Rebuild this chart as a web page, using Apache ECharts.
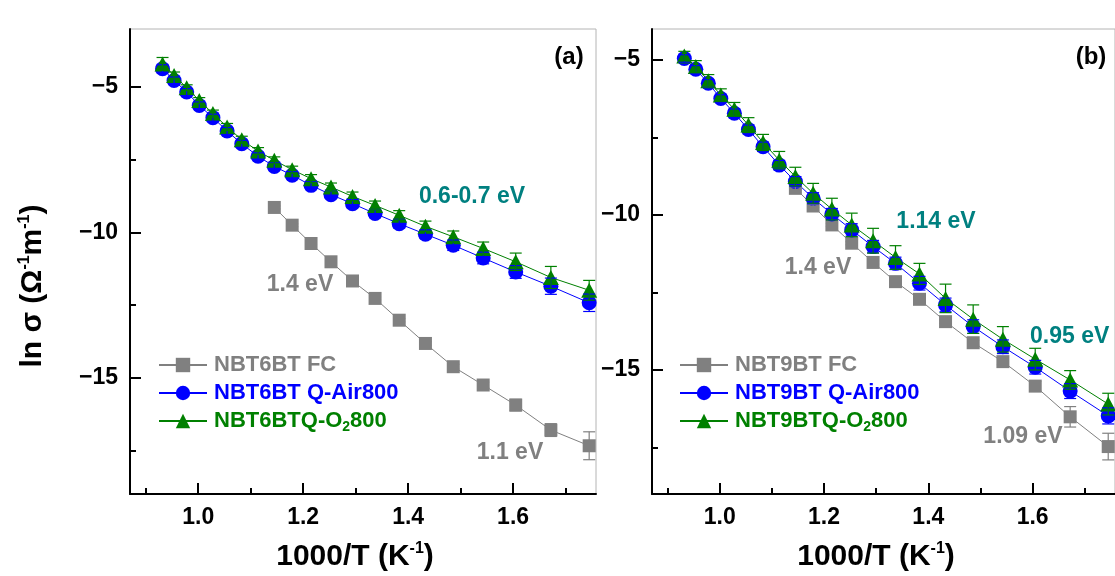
<!DOCTYPE html>
<html>
<head>
<meta charset="utf-8">
<script src="https://cdn.jsdelivr.net/npm/echarts@6/dist/echarts.min.js"></script>
<style>
html, body { margin: 0; padding: 0; background: #ffffff; }
#chart { width: 1115px; height: 576px; }
</style>
</head>
<body>
<div id="chart"></div>
<script>
// Reciprocal temperature, 1000/T (K^-1): 1073 K down to 573 K in 25 K steps
const invT = [0.932, 0.954, 0.978, 1.002, 1.028, 1.055, 1.083, 1.114, 1.145, 1.179, 1.215,
              1.253, 1.294, 1.337, 1.383, 1.433, 1.486, 1.543, 1.605, 1.672, 1.745];
// Furnace-cooled samples were measured from 873 K downwards
const invTFC = [1.145, 1.179, 1.215, 1.253, 1.294, 1.337, 1.383, 1.433, 1.486, 1.543, 1.605, 1.672, 1.745];

// Panel (a): NBT6BT, ln sigma (ohm^-1 m^-1) and its uncertainty
const nbt6FC      = [-9.14, -9.75, -10.38, -11.01, -11.67, -12.27, -13.02, -13.82, -14.62, -15.25, -15.94, -16.80, -17.34];
const nbt6FCErr   = [0.05, 0.05, 0.05, 0.05, 0.05, 0.05, 0.06, 0.06, 0.08, 0.10, 0.20, 0.22, 0.48];
const nbt6Air     = [-4.37, -4.77, -5.17, -5.63, -6.05, -6.51, -6.95, -7.38, -7.73, -8.03, -8.38,
                     -8.70, -9.01, -9.35, -9.70, -10.06, -10.44, -10.88, -11.36, -11.85, -12.42];
const nbt6AirErr  = [0.14, 0.12, 0.12, 0.12, 0.12, 0.12, 0.12, 0.12, 0.12, 0.12, 0.12,
                     0.12, 0.14, 0.14, 0.15, 0.15, 0.18, 0.20, 0.22, 0.28, 0.30];
const nbt6O2      = [-4.20, -4.60, -5.02, -5.46, -5.91, -6.37, -6.81, -7.20, -7.52, -7.84, -8.15,
                     -8.44, -8.76, -9.07, -9.41, -9.79, -10.15, -10.55, -11.01, -11.55, -11.99];
const nbt6O2Err   = [0.22, 0.12, 0.10, 0.10, 0.12, 0.12, 0.12, 0.12, 0.12, 0.12, 0.14,
                     0.14, 0.15, 0.15, 0.16, 0.18, 0.20, 0.22, 0.30, 0.38, 0.34];

// Panel (b): NBT9BT
const nbt9FC      = [-9.14, -9.71, -10.32, -10.91, -11.53, -12.15, -12.72, -13.44, -14.12, -14.73, -15.52, -16.51, -17.47];
const nbt9FCErr   = [0.05, 0.05, 0.05, 0.05, 0.05, 0.05, 0.06, 0.06, 0.08, 0.10, 0.15, 0.33, 0.43];
const nbt9Air     = [-4.95, -5.30, -5.75, -6.24, -6.72, -7.24, -7.80, -8.39, -8.92, -9.46, -9.97,
                     -10.48, -11.02, -11.56, -12.20, -12.90, -13.60, -14.25, -14.91, -15.68, -16.48];
const nbt9AirErr  = [0.12, 0.12, 0.12, 0.12, 0.14, 0.14, 0.15, 0.15, 0.16, 0.18, 0.18,
                     0.20, 0.20, 0.20, 0.22, 0.22, 0.22, 0.22, 0.22, 0.24, 0.26];
const nbt9O2      = [-4.87, -5.21, -5.67, -6.13, -6.59, -7.10, -7.66, -8.23, -8.76, -9.30, -9.81,
                     -10.32, -10.83, -11.37, -11.90, -12.69, -13.36, -14.01, -14.65, -15.32, -16.10];
const nbt9O2Err   = [0.15, 0.19, 0.20, 0.20, 0.22, 0.24, 0.26, 0.28, 0.30, 0.32, 0.35,
                     0.38, 0.40, 0.38, 0.34, 0.46, 0.46, 0.41, 0.35, 0.30, 0.35];

// Axis ticks
const xMajorTicks = [1.0, 1.2, 1.4, 1.6];
const xMinorTicks = [0.9, 1.1, 1.3, 1.5, 1.7];
const yMajorTicks = [-15, -10, -5];
const yMinorTicks = [-17.5, -12.5, -7.5];

// Series names and colours
const namesA = ['NBT6BT FC', 'NBT6BT Q-Air800', 'NBT6BTQ-O2800'];
const namesB = ['NBT9BT FC', 'NBT9BT Q-Air800', 'NBT9BTQ-O2800'];
const GRAY = '#808080', BLUE = '#0000ff', GREEN = '#008000', TEAL = '#008080';
const FONT = '"Liberation Sans", Arial, Helvetica, sans-serif';

const chart = echarts.init(document.getElementById('chart'), null, { renderer: 'canvas' });

function pairs(xs, ys) { return xs.map((x, i) => [x, ys[i]]); }

function xAxes(grid) {
  const common = {
    type: 'value', gridIndex: grid, min: 0.87, max: 1.758, position: 'bottom',
    splitLine: { show: false }
  };
  return [
    Object.assign({}, common, {
      axisLine: { show: true, onZero: false, lineStyle: { color: '#000', width: 2 } },
      axisTick: { show: true, inside: true, length: 11, customValues: xMajorTicks,
                  lineStyle: { color: '#000', width: 2 } },
      axisLabel: { show: true, customValues: xMajorTicks, margin: 12,
                   formatter: v => v.toFixed(1),
                   color: '#000', fontSize: 23, fontWeight: 'bold', fontFamily: FONT }
    }),
    Object.assign({}, common, {
      axisLine: { show: false },
      axisTick: { show: true, inside: true, length: 6, customValues: xMinorTicks,
                  lineStyle: { color: '#000', width: 2 } },
      axisLabel: { show: false }
    })
  ];
}

function yAxes(grid, max) {
  const common = {
    type: 'value', gridIndex: grid, min: -19, max: max, position: 'left',
    splitLine: { show: false }
  };
  return [
    Object.assign({}, common, {
      axisLine: { show: true, onZero: false, lineStyle: { color: '#000', width: 2 } },
      axisTick: { show: true, inside: true, length: 11, customValues: yMajorTicks,
                  lineStyle: { color: '#000', width: 2 } },
      axisLabel: { show: true, customValues: yMajorTicks, margin: 12,
                   formatter: v => String(v).replace('-', '\u2212'),
                   color: '#000', fontSize: 23, fontWeight: 'bold', fontFamily: FONT }
    }),
    Object.assign({}, common, {
      axisLine: { show: false },
      axisTick: { show: true, inside: true, length: 6, customValues: yMinorTicks,
                  lineStyle: { color: '#000', width: 2 } },
      axisLabel: { show: false }
    })
  ];
}

function lineSeries(name, xs, ys, color, symbol, size, xi, yi) {
  return {
    type: 'line', name: name, xAxisIndex: xi, yAxisIndex: yi,
    data: pairs(xs, ys), symbol: symbol, symbolSize: size, showSymbol: true,
    lineStyle: { color: color, width: 1 },
    itemStyle: { color: color, borderWidth: 0 },
    emphasis: { disabled: true }, z: 2
  };
}

function errorSeries(name, xs, ys, es, color, xi, yi) {
  return {
    type: 'custom', name: name, xAxisIndex: xi, yAxisIndex: yi, silent: true, z: 3,
    data: xs.map((x, i) => [x, ys[i] - es[i], ys[i] + es[i]]),
    encode: { x: 0, y: [1, 2] },
    renderItem: function (params, api) {
      const lo = api.coord([api.value(0), api.value(1)]);
      const hi = api.coord([api.value(0), api.value(2)]);
      const w = 6;
      const st = { stroke: color, lineWidth: 1.2 };
      return {
        type: 'group',
        children: [
          { type: 'line', shape: { x1: lo[0], y1: lo[1], x2: hi[0], y2: hi[1] }, style: st },
          { type: 'line', shape: { x1: lo[0] - w, y1: lo[1], x2: lo[0] + w, y2: lo[1] }, style: st },
          { type: 'line', shape: { x1: hi[0] - w, y1: hi[1], x2: hi[0] + w, y2: hi[1] }, style: st }
        ]
      };
    }
  };
}

function legendFor(names, left) {
  const colors = [GRAY, BLUE, GREEN];
  const sub = c => ({ color: c, fontSize: 14, fontWeight: 'bold', fontFamily: FONT,
                      verticalAlign: 'bottom', lineHeight: 14 });
  return {
    orient: 'vertical', left: left, top: 352, padding: 0,
    itemWidth: 48, itemHeight: 18, itemGap: 2, selectedMode: false,
    data: names.map((n, i) => ({
      name: n,
      textStyle: { color: colors[i], rich: { sub: sub(colors[i]) } }
    })),
    formatter: n => n.replace('O2', 'O{sub|2}'),
    textStyle: { fontSize: 22, fontWeight: 'bold', fontFamily: FONT, lineHeight: 26,
                 padding: [0, 0, 0, 2] }
  };
}

function label(text, x, y, color, size, align) {
  return {
    type: 'text', x: x, y: y, z: 10, silent: true,
    style: {
      text: text, fill: color, fontSize: size, fontWeight: 'bold', fontFamily: FONT,
      align: align || 'center', verticalAlign: 'middle',
      textAlign: align || 'center', textVerticalAlign: 'middle'
    }
  };
}

function richTitle(text, x, y, rotation) {
  return {
    type: 'text', x: x, y: y, rotation: rotation || 0, z: 10, silent: true,
    style: {
      text: text, fill: '#000', fontSize: 30, fontWeight: 'bold', fontFamily: FONT,
      align: 'center', verticalAlign: 'middle',
      textAlign: 'center', textVerticalAlign: 'middle',
      rich: {
        t: { fontSize: 30, fontWeight: 'bold', fontFamily: FONT, fill: '#000', color: '#000', lineHeight: 32 },
        sup: { fontSize: 16, fontWeight: 'bold', fontFamily: FONT, fill: '#000', color: '#000',
               verticalAlign: 'top', lineHeight: 16 }
      }
    }
  };
}

const option = {
  animation: false,
  backgroundColor: '#ffffff',
  grid: [
    { left: 130, top: 29, width: 466, height: 465, show: true,
      borderColor: '#b4b4b4', borderWidth: 1, backgroundColor: 'transparent' },
    { left: 652, top: 29, width: 466, height: 465, show: true,
      borderColor: '#b4b4b4', borderWidth: 1, backgroundColor: 'transparent' }
  ],
  xAxis: [].concat(xAxes(0), xAxes(1)),
  yAxis: [].concat(yAxes(0, -3), yAxes(1, -4)),
  legend: [legendFor(namesA, 158), legendFor(namesB, 679)],
  series: [
    lineSeries(namesA[0], invTFC, nbt6FC, GRAY, 'rect', 13, 0, 0),
    lineSeries(namesA[1], invT, nbt6Air, BLUE, 'circle', 15, 0, 0),
    lineSeries(namesA[2], invT, nbt6O2, GREEN, 'triangle', [16, 15], 0, 0),
    errorSeries('err6FC', invTFC, nbt6FC, nbt6FCErr, GRAY, 0, 0),
    errorSeries('err6Air', invT, nbt6Air, nbt6AirErr, BLUE, 0, 0),
    errorSeries('err6O2', invT, nbt6O2, nbt6O2Err, GREEN, 0, 0),

    lineSeries(namesB[0], invTFC, nbt9FC, GRAY, 'rect', 13, 2, 2),
    lineSeries(namesB[1], invT, nbt9Air, BLUE, 'circle', 15, 2, 2),
    lineSeries(namesB[2], invT, nbt9O2, GREEN, 'triangle', [16, 15], 2, 2),
    errorSeries('err9FC', invTFC, nbt9FC, nbt9FCErr, GRAY, 2, 2),
    errorSeries('err9Air', invT, nbt9Air, nbt9AirErr, BLUE, 2, 2),
    errorSeries('err9O2', invT, nbt9O2, nbt9O2Err, GREEN, 2, 2)
  ],
  graphic: [
    richTitle('{t|ln \u03c3 (\u03a9}{sup|-1}{t|m}{sup|-1}{t|)}', 33, 286, Math.PI / 2),
    richTitle('{t|1000/T (K}{sup|-1}{t|)}', 355, 557),
    richTitle('{t|1000/T (K}{sup|-1}{t|)}', 876, 557),
    label('(a)', 569, 57, '#000', 24),
    label('0.6-0.7 eV', 472, 197, TEAL, 23),
    label('1.4 eV', 300, 285, GRAY, 23),
    label('1.1 eV', 510, 453, GRAY, 23),
    label('(b)', 1091, 57, '#000', 24),
    label('1.14 eV', 936, 222, TEAL, 23),
    label('1.4 eV', 818, 268, GRAY, 23),
    label('0.95 eV', 1030, 337, TEAL, 23, 'left'),
    label('1.09 eV', 1023, 437, GRAY, 23)
  ]
};

chart.setOption(option);
</script>
</body>
</html>
